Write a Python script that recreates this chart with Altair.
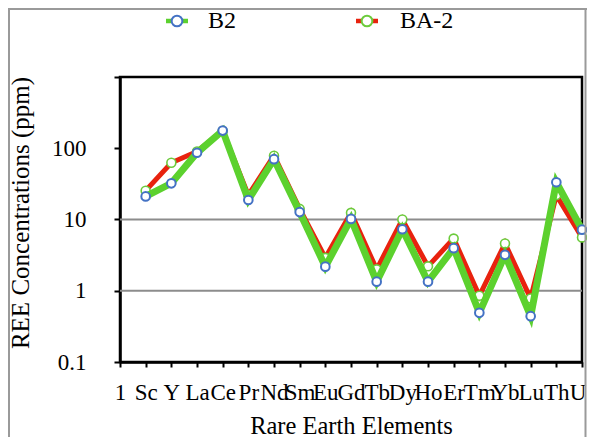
import altair as alt
import pandas as pd

categories = ["1", "Sc", "Y", "La", "Ce", "Pr", "Nd", "Sm", "Eu", "Gd", "Tb",
              "Dy", "Ho", "Er", "Tm", "Yb", "Lu", "Th", "U"]
elements = categories[1:]
b2 = [21.1, 32.2, 86.5, 177, 18.8, 70.3, 12.7, 2.18, 10.2, 1.34, 7.3, 1.34,
      3.96, 0.49, 3.19, 0.44, 33.3, 7.2]
ba2 = [25.4, 62.6, 90, 175, 22, 78.6, 14.1, 2.9, 12.4, 2.0, 10.0, 2.2,
       5.4, 0.85, 4.6, 0.78, 22, 5.6]
y_ticks = [0.1, 1, 10, 100, 1000]
grid_values = [1, 10]
series_names = ["B2", "BA-2"]

FONT = "Liberation Serif"
GREEN_LINE = "#5CD12E"
RED_LINE = "#E8220E"
BLUE_MARK = "#4472C4"
GREEN_MARK = "#6CCB3C"

df_b2 = pd.DataFrame({"element": elements, "value": b2})
df_ba2 = pd.DataFrame({"element": elements, "value": ba2})
df_grid = pd.DataFrame({"value": grid_values})
one = pd.DataFrame({"k": [0]})

x_scale = alt.Scale(domain=categories, type="point", padding=0)
y_scale = alt.Scale(type="log", domain=[0.1, 1000])

x_axis = alt.Axis(
    title="Rare Earth Elements", labelAngle=0, labelFont=FONT, labelFontSize=23,
    labelColor="black", labelOverlap=False, labelFlush=False, labelBound=False,
    labelPadding=14,
    labelOffset={"condition": {"test": "datum.value == 'U'", "value": -4.5}, "value": 0},
    tickColor="black", tickWidth=2, tickSize=5,
    domainColor="black", domainWidth=2.5, grid=False,
    titleFont=FONT, titleFontSize=24.5, titleFontWeight="normal", titleColor="black",
    titleY=71, titleBaseline="alphabetic",
)
y_axis = alt.Axis(
    title="REE Concentrations (ppm)", values=y_ticks, format="~g",
    labelExpr="datum.value >= 1000 ? '' : datum.label",
    labelFont=FONT, labelFontSize=23, labelColor="black", labelOverlap=False,
    labelFlush=False, labelBound=False, labelPadding=28,
    tickColor="black", tickWidth=2, tickSize=6,
    domainColor="black", domainWidth=2.5, grid=False,
    titleFont=FONT, titleFontSize=25, titleFontWeight="normal", titleColor="black",
    titleX=-92, titleY=135.5, titleBaseline="alphabetic", titleAngle=-90,
)

X = alt.X("element:N", scale=x_scale, axis=x_axis)
Y = alt.Y("value:Q", scale=y_scale, axis=y_axis)

grid = alt.Chart(df_grid).mark_rule(color="#8C8C8C", strokeWidth=2).encode(y=Y)

red_line = alt.Chart(df_ba2).mark_line(color=RED_LINE, strokeWidth=5).encode(x=X, y=Y)
ba2_pts = alt.Chart(df_ba2).mark_point(
    shape="circle", filled=True, fill="white", stroke=GREEN_MARK,
    strokeWidth=1.6, size=80, opacity=1
).encode(x=X, y=Y)
green_line = alt.Chart(df_b2).mark_line(color=GREEN_LINE, strokeWidth=7).encode(x=X, y=Y)
b2_pts = alt.Chart(df_b2).mark_point(
    shape="circle", filled=True, fill="white", stroke=BLUE_MARK,
    strokeWidth=2, size=75, opacity=1
).encode(x=X, y=Y)

# custom legend
legend_styles = [
    {"line": GREEN_LINE, "mark": BLUE_MARK, "cx": 57, "text_x": 88},
    {"line": RED_LINE, "mark": GREEN_MARK, "cx": 247, "text_x": 280},
]
legend_layers = []
for name, st in zip(series_names, legend_styles):
    legend_layers.append(
        alt.Chart(one).mark_rule(color=st["line"], strokeWidth=4.5).encode(
            x=alt.value(st["cx"] - 11), x2=alt.value(st["cx"] + 11), y=alt.value(-56)
        )
    )
    legend_layers.append(
        alt.Chart(one).mark_point(
            shape="circle", filled=True, fill="white", stroke=st["mark"],
            strokeWidth=2, size=115, opacity=1
        ).encode(x=alt.value(st["cx"]), y=alt.value(-56))
    )
    legend_layers.append(
        alt.Chart(one).mark_text(
            text=name, align="left", baseline="alphabetic", font=FONT,
            fontSize=24, color="black"
        ).encode(x=alt.value(st["text_x"]), y=alt.value(-49))
    )

# outer frame (gray)
frame_color = "#9A9A9A"
frame = [
    alt.Chart(one).mark_rule(color=frame_color, strokeWidth=2).encode(
        x=alt.value(-111), y=alt.value(-68), y2=alt.value(360)),
    alt.Chart(one).mark_rule(color=frame_color, strokeWidth=2).encode(
        x=alt.value(-112), x2=alt.value(467), y=alt.value(-68)),
    alt.Chart(one).mark_rule(color=frame_color, strokeWidth=2).encode(
        x=alt.value(465.5), y=alt.value(-68), y2=alt.value(360)),
]

chart = alt.layer(
    grid, red_line, ba2_pts, green_line, b2_pts, *legend_layers, *frame
).properties(
    width=462, height=285,
    padding={"left": 112, "top": 69, "right": 5, "bottom": 75},
    autosize=alt.AutoSizeParams(type="none"),
    background="white",
).configure_view(
    stroke="black", strokeWidth=2.5
)

chart.save("out.html", embed_options={"renderer": "svg", "actions": False})
